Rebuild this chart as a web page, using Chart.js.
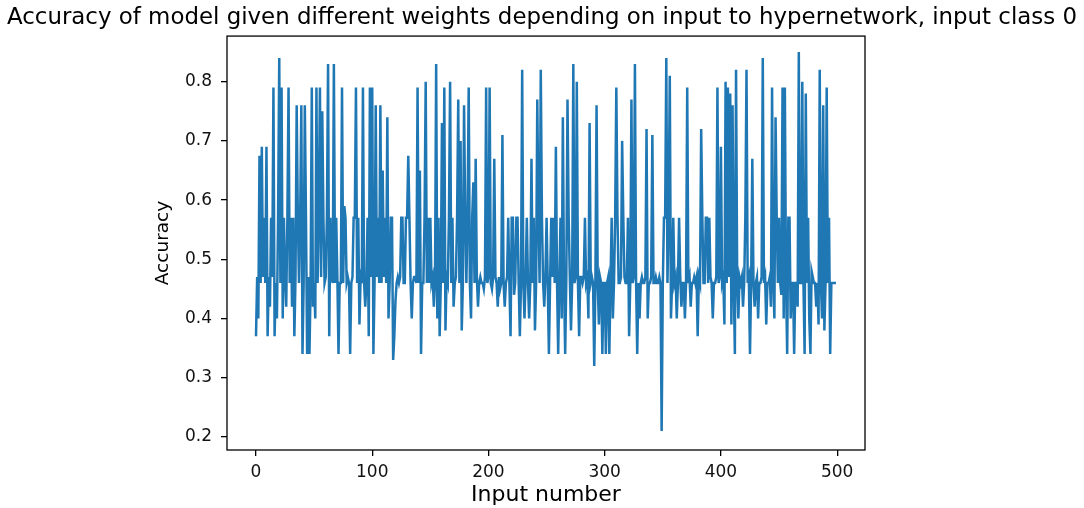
<!DOCTYPE html>
<html>
<head>
<meta charset="utf-8">
<script src="https://cdn.jsdelivr.net/npm/chart.js@4"></script>
<style>
  body { margin: 0; background: #fff; }
  #wrap { width: 1084px; height: 508px; position: relative; }
</style>
</head>
<body>
<div id="wrap"><canvas id="accuracyChart"></canvas></div>
<script>
// accuracy for each input number 0..499
const accuracy = [
  0.37,0.47,0.40,0.675,0.46,0.69,0.47,0.57,0.46,0.69,
  0.37,0.47,0.42,0.57,0.47,0.79,0.37,0.46,0.40,0.57,
  0.84,0.46,0.79,0.40,0.57,0.47,0.42,0.57,0.79,0.46,
  0.57,0.42,0.57,0.37,0.47,0.76,0.57,0.46,0.57,0.76,
  0.34,0.46,0.76,0.57,0.34,0.47,0.34,0.46,0.79,0.42,
  0.46,0.40,0.79,0.46,0.57,0.79,0.47,0.75,0.57,0.46,
  0.47,0.57,0.83,0.37,0.57,0.47,0.46,0.83,0.46,0.57,
  0.47,0.34,0.46,0.46,0.79,0.46,0.59,0.57,0.46,0.47,
  0.46,0.34,0.46,0.47,0.57,0.57,0.79,0.46,0.57,0.39,
  0.47,0.46,0.79,0.46,0.42,0.46,0.57,0.37,0.79,0.47,
  0.79,0.34,0.46,0.76,0.47,0.57,0.46,0.76,0.46,0.65,
  0.47,0.57,0.46,0.74,0.40,0.46,0.57,0.57,0.33,0.37,
  0.43,0.46,0.47,0.46,0.47,0.57,0.57,0.46,0.46,0.57,
  0.57,0.675,0.57,0.46,0.40,0.46,0.47,0.47,0.46,0.79,
  0.46,0.65,0.34,0.46,0.46,0.57,0.80,0.46,0.57,0.46,
  0.57,0.46,0.47,0.42,0.46,0.83,0.40,0.57,0.37,0.46,
  0.73,0.46,0.79,0.38,0.47,0.46,0.57,0.80,0.46,0.57,
  0.42,0.46,0.47,0.57,0.77,0.46,0.70,0.38,0.46,0.76,
  0.57,0.46,0.57,0.79,0.46,0.40,0.57,0.63,0.46,0.67,
  0.47,0.42,0.46,0.47,0.46,0.46,0.45,0.47,0.79,0.46,
  0.47,0.79,0.46,0.45,0.47,0.67,0.47,0.46,0.42,0.47,
  0.45,0.46,0.71,0.46,0.42,0.46,0.47,0.57,0.46,0.37,
  0.57,0.57,0.44,0.46,0.57,0.57,0.46,0.37,0.46,0.82,
  0.46,0.40,0.47,0.57,0.46,0.40,0.46,0.67,0.46,0.57,
  0.38,0.46,0.77,0.57,0.46,0.82,0.57,0.46,0.42,0.47,
  0.57,0.46,0.34,0.46,0.57,0.47,0.57,0.46,0.69,0.46,
  0.34,0.47,0.57,0.40,0.74,0.46,0.34,0.47,0.77,0.57,
  0.47,0.38,0.46,0.83,0.46,0.47,0.80,0.46,0.37,0.47,
  0.47,0.46,0.47,0.57,0.46,0.47,0.40,0.73,0.46,0.47,
  0.46,0.32,0.46,0.76,0.46,0.39,0.47,0.46,0.34,0.46,
  0.46,0.34,0.46,0.47,0.34,0.46,0.57,0.40,0.46,0.57,
  0.79,0.57,0.46,0.46,0.47,0.70,0.57,0.47,0.46,0.46,
  0.57,0.37,0.46,0.77,0.46,0.47,0.83,0.46,0.34,0.46,
  0.40,0.46,0.47,0.46,0.46,0.47,0.72,0.40,0.46,0.46,
  0.47,0.71,0.46,0.46,0.47,0.46,0.46,0.47,0.46,0.21,
  0.46,0.57,0.57,0.84,0.46,0.57,0.81,0.40,0.46,0.57,
  0.46,0.47,0.40,0.46,0.57,0.47,0.42,0.46,0.46,0.40,
  0.46,0.79,0.46,0.47,0.42,0.46,0.46,0.47,0.46,0.47,
  0.37,0.47,0.46,0.72,0.57,0.46,0.46,0.57,0.57,0.46,
  0.57,0.47,0.46,0.40,0.46,0.46,0.47,0.79,0.46,0.47,
  0.69,0.46,0.47,0.39,0.80,0.46,0.79,0.47,0.78,0.39,
  0.76,0.46,0.34,0.82,0.46,0.40,0.47,0.46,0.47,0.42,
  0.46,0.57,0.82,0.46,0.47,0.34,0.46,0.67,0.46,0.42,
  0.46,0.47,0.40,0.46,0.46,0.47,0.84,0.46,0.47,0.39,
  0.46,0.46,0.47,0.42,0.79,0.46,0.40,0.74,0.57,0.46,
  0.57,0.46,0.44,0.79,0.40,0.79,0.46,0.34,0.57,0.57,
  0.40,0.46,0.46,0.34,0.46,0.46,0.42,0.85,0.46,0.46,
  0.80,0.46,0.34,0.78,0.46,0.57,0.40,0.34,0.48,0.47,
  0.46,0.46,0.42,0.46,0.39,0.82,0.46,0.40,0.76,0.38,
  0.46,0.79,0.46,0.57,0.34,0.46,0.46,0.46,0.46,0.46
];
const xTicks = [0, 100, 200, 300, 400, 500];
const yTicks = [0.2, 0.3, 0.4, 0.5, 0.6, 0.7, 0.8];

const FONT = "'DejaVu Sans', sans-serif";

// matplotlib draws a box round the axes
const frame = {
  id: "frame",
  afterDraw(chart) {
    const { ctx, chartArea: a } = chart;
    ctx.save();
    ctx.strokeStyle = "#000";
    ctx.lineWidth = 1.3;
    ctx.strokeRect(a.left, a.top, a.right - a.left, a.bottom - a.top);
    ctx.restore();
  },
};

const tickGrid = {
  drawOnChartArea: false,
  drawTicks: true,
  tickLength: 6,
  tickColor: "#000",
  lineWidth: 1.3,
};

const ctx = document.getElementById("accuracyChart").getContext("2d");
new Chart(ctx, {
  type: "line",
  data: {
    datasets: [
      {
        data: accuracy.map((v, i) => ({ x: i, y: v })),
        borderColor: "#1f77b4",
        borderWidth: 2.5,
        pointRadius: 0,
        tension: 0,
        fill: false,
      },
    ],
  },
  options: {
    responsive: true,
    maintainAspectRatio: false,
    animation: false,
    layout: { padding: 0 },
    plugins: {
      legend: { display: false },
      tooltip: { enabled: false },
      title: {
        display: true,
        text: "Accuracy of model given different weights depending on input to hypernetwork, input class 0",
        color: "#000",
        font: { family: FONT, size: 22.9, weight: "normal" },
        padding: { top: 4.3, bottom: 4.3 },
      },
    },
    scales: {
      x: {
        type: "linear",
        min: -24.95,
        max: 523.95,
        afterBuildTicks: (scale) => {
          scale.ticks = xTicks.map((v) => ({ value: v }));
        },
        afterFit: (scale) => {
          scale.height = 58;
        },
        ticks: {
          color: "#111",
          font: { family: FONT, size: 17 },
          padding: 6,
          maxRotation: 0,
          autoSkip: false,
        },
        grid: tickGrid,
        border: { display: false },
        title: {
          display: true,
          text: "Input number",
          color: "#000",
          font: { family: FONT, size: 22 },
          padding: { top: 0, bottom: 0 },
        },
      },
      y: {
        min: 0.178,
        max: 0.877,
        afterBuildTicks: (scale) => {
          scale.ticks = yTicks.map((v) => ({ value: v }));
        },
        afterFit: (scale) => {
          scale.width = 227;
        },
        ticks: {
          color: "#111",
          font: { family: FONT, size: 17 },
          padding: 9,
          callback: (v) => v.toFixed(1),
        },
        grid: tickGrid,
        border: { display: false },
        title: {
          display: true,
          text: "Accuracy",
          color: "#000",
          font: { family: FONT, size: 18.5 },
          padding: { top: 151.9, bottom: 0 },
        },
      },
      // empty right-hand strip so the title still spans the whole canvas
      yRight: {
        position: "right",
        afterFit: (scale) => {
          scale.width = 219;
        },
        ticks: { display: false },
        grid: { display: false },
        border: { display: false },
      },
    },
  },
  plugins: [frame],
});
</script>
</body>
</html>
